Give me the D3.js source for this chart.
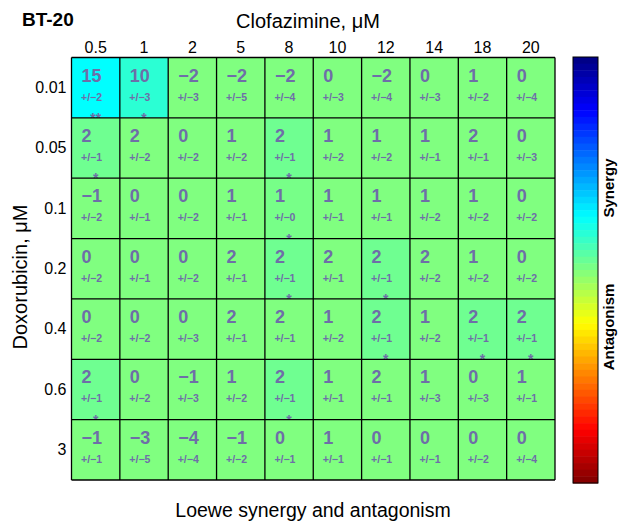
<!DOCTYPE html>
<html>
<head>
<meta charset="utf-8">
<script src="https://cdn.jsdelivr.net/npm/d3@7"></script>
<style>
  body { margin: 0; background: #fff; }
  svg text { font-family: "Liberation Sans", Arial, sans-serif; }
</style>
</head>
<body>
<div class="chart"></div>
<script>
// concentrations
var clofazimine = ['0.5', '1', '2', '5', '8', '10', '12', '14', '18', '20'];
var doxorubicin = ['0.01', '0.05', '0.1', '0.2', '0.4', '0.6', '3'];

// Loewe synergy, one row per doxorubicin dose
var synergy = [
  [15, 10, -2, -2, -2, 0, -2, 0, 1, 0],
  [2, 2, 0, 1, 2, 1, 1, 1, 2, 0],
  [-1, 0, 0, 1, 1, 1, 1, 1, 1, 0],
  [0, 0, 0, 2, 2, 2, 2, 2, 1, 0],
  [0, 0, 0, 2, 2, 1, 2, 1, 2, 2],
  [2, 0, -1, 1, 2, 1, 2, 1, 0, 1],
  [-1, -3, -4, -1, 0, 1, 0, 0, 0, 0]
];
var sem = [
  [2, 3, 3, 5, 4, 3, 4, 3, 2, 4],
  [1, 2, 2, 2, 1, 2, 2, 1, 1, 3],
  [2, 1, 2, 1, 0, 1, 1, 2, 2, 2],
  [2, 1, 2, 1, 1, 1, 1, 2, 2, 2],
  [2, 2, 3, 1, 1, 2, 1, 2, 1, 1],
  [1, 2, 3, 2, 1, 1, 1, 3, 3, 1],
  [1, 5, 4, 2, 1, 1, 1, 1, 2, 4]
];
var stars = [
  ['**', '*', '', '', '', '', '', '', '', ''],
  ['*', '', '', '', '*', '', '', '', '', ''],
  ['', '', '', '', '*', '', '', '', '', ''],
  ['', '', '', '', '*', '', '*', '', '', ''],
  ['', '', '', '', '', '', '*', '', '*', '*'],
  ['*', '', '', '', '*', '', '', '', '', ''],
  ['', '', '', '', '', '', '', '', '', '']
];
var colorRange = [60, -60]; // synergy on top (blue), antagonism at bottom (red)

var W = 619, H = 525;
var svg = d3.select('.chart').append('svg')
  .attr('width', W)
  .attr('height', H);

var x = d3.scaleBand().domain(clofazimine).range([71.5, 555]);
var y = d3.scaleBand().domain(doxorubicin).range([57.5, 480]);

// matlab jet
function jet(t) {
  var c = v => Math.round(255 * Math.max(0, Math.min(1, v)));
  return d3.rgb(c(1.5 - Math.abs(4 * t - 3)), c(1.5 - Math.abs(4 * t - 2)), c(1.5 - Math.abs(4 * t - 1))) + '';
}
var color = d3.scaleSequential(jet).domain(colorRange);

var cells = [];
synergy.forEach((row, i) => row.forEach((v, j) => {
  cells.push({ row: doxorubicin[i], col: clofazimine[j], v: v, sem: sem[i][j], star: stars[i][j] });
}));

var cell = svg.selectAll('.cell')
  .data(cells)
  .enter().append('g')
  .attr('class', 'cell')
  .attr('transform', d => 'translate(' + x(d.col) + ',' + y(d.row) + ')');

// only significant cells get coloured
cell.append('rect')
  .attr('width', x.bandwidth())
  .attr('height', y.bandwidth())
  .attr('fill', d => color(d.star ? d.v : 0));

var txtColor = '#6e6ea8';
cell.append('text')
  .attr('x', 10)
  .attr('y', 24)
  .style('font-size', '18px')
  .style('font-weight', 'bold')
  .attr('fill', txtColor)
  .text(d => d.v < 0 ? '\u2212' + (-d.v) : d.v);

cell.append('text')
  .attr('x', 9.5)
  .attr('y', 43)
  .style('font-size', '10.5px')
  .style('font-weight', 'bold')
  .attr('fill', txtColor)
  .text(d => '+/\u2212' + d.sem);

cell.append('text')
  .attr('x', x.bandwidth() / 2)
  .attr('y', y.bandwidth() + 5)
  .style('font-size', '14px')
  .style('font-weight', 'bold')
  .style('text-anchor', 'middle')
  .attr('fill', txtColor)
  .text(d => d.star);

// grid
svg.append('g').selectAll('line')
  .data(clofazimine.concat(['end']))
  .enter().append('line')
  .attr('x1', (d, i) => i < clofazimine.length ? x(d) : x.range()[1])
  .attr('x2', (d, i) => i < clofazimine.length ? x(d) : x.range()[1])
  .attr('y1', y.range()[0]).attr('y2', y.range()[1])
  .attr('stroke', '#000').attr('stroke-width', 1.3);
svg.append('g').selectAll('line')
  .data(doxorubicin.concat(['end']))
  .enter().append('line')
  .attr('y1', (d, i) => i < doxorubicin.length ? y(d) : y.range()[1])
  .attr('y2', (d, i) => i < doxorubicin.length ? y(d) : y.range()[1])
  .attr('x1', x.range()[0]).attr('x2', x.range()[1])
  .attr('stroke', '#000').attr('stroke-width', 1.3);

// axes
var topAxis = svg.append('g')
  .attr('transform', 'translate(0,' + y.range()[0] + ')')
  .call(d3.axisTop(x).tickSize(0).tickPadding(4.5));
var leftAxis = svg.append('g')
  .attr('transform', 'translate(' + x.range()[0] + ',0)')
  .call(d3.axisLeft(y).tickSize(0).tickPadding(5));
[topAxis, leftAxis].forEach(g => {
  g.select('.domain').remove();
  g.selectAll('text').style('font-size', '16px').attr('fill', '#000')
    .style('font-family', '"Liberation Sans", Arial, sans-serif');
});

svg.append('text')
  .attr('x', 22).attr('y', 26)
  .style('font-size', '19px').style('font-weight', 'bold')
  .text('BT-20');

svg.append('text')
  .attr('x', 308).attr('y', 28)
  .style('font-size', '20px').style('text-anchor', 'middle')
  .text('Clofazimine, \u03bcM');

svg.append('text')
  .attr('transform', 'translate(27,277) rotate(-90)')
  .style('font-size', '20px').style('text-anchor', 'middle')
  .text('Doxorubicin, \u03bcM');

svg.append('text')
  .attr('x', 313).attr('y', 517)
  .style('font-size', '19.5px').style('text-anchor', 'middle')
  .text('Loewe synergy and antagonism');

// colour bar
var nBands = 64;
var cb = d3.scaleBand().domain(d3.range(nBands)).range([57, 483]);
var cbX = 573, cbW = 25;
svg.append('g').selectAll('rect')
  .data(d3.range(nBands))
  .enter().append('rect')
  .attr('x', cbX)
  .attr('y', d => cb(d))
  .attr('width', cbW)
  .attr('height', cb.bandwidth() + 0.5)
  .attr('fill', d => jet((d + 0.5) / nBands));
svg.append('rect')
  .attr('x', cbX).attr('y', 57)
  .attr('width', cbW).attr('height', 426)
  .attr('fill', 'none').attr('stroke', '#000').attr('stroke-width', 1);

svg.append('text')
  .attr('transform', 'translate(614,188) rotate(-90)')
  .style('font-size', '15px').style('font-weight', 'bold').style('text-anchor', 'middle')
  .text('Synergy');
svg.append('text')
  .attr('transform', 'translate(614,327) rotate(-90)')
  .style('font-size', '15px').style('font-weight', 'bold').style('text-anchor', 'middle')
  .text('Antagonism');
</script>
</body>
</html>
